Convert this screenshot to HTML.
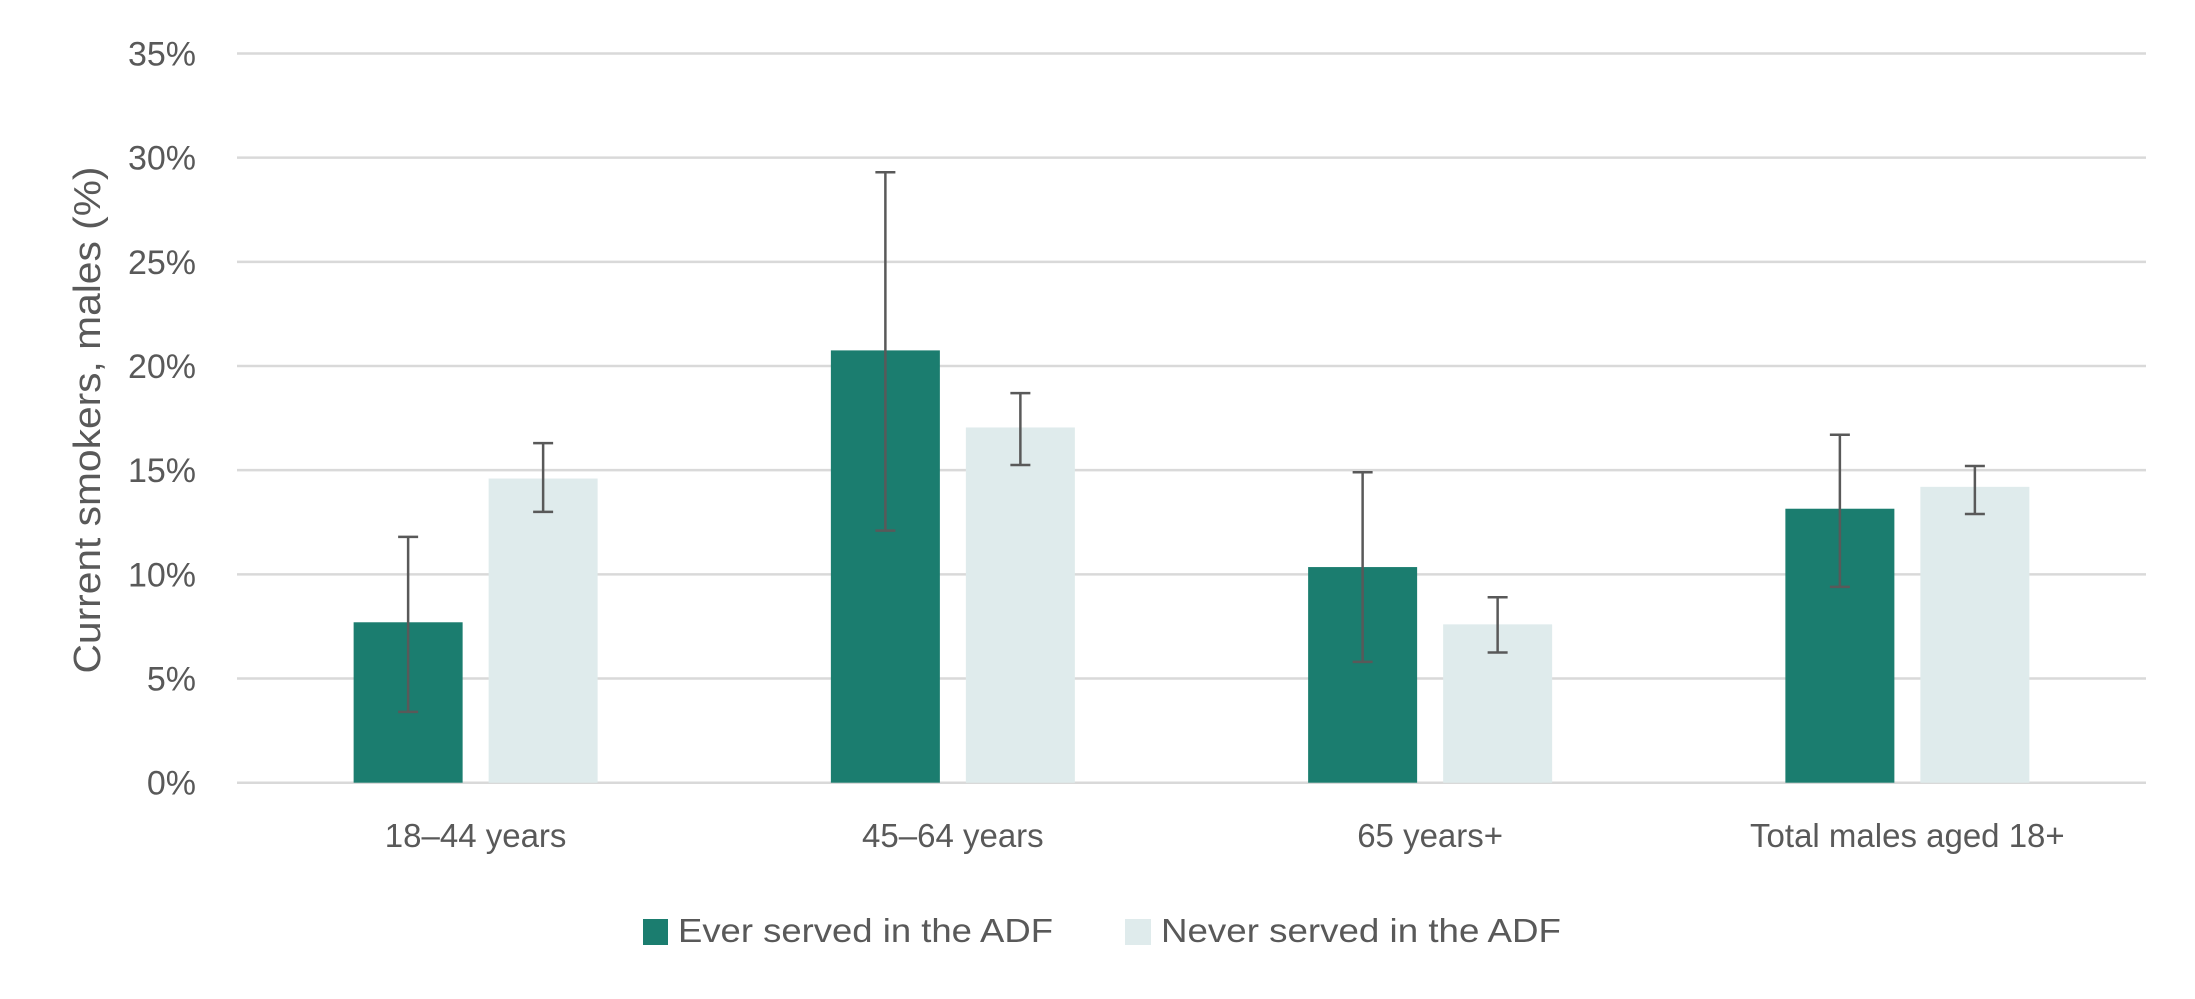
<!DOCTYPE html>
<html><head><meta charset="utf-8"><style>
html,body{margin:0;padding:0;background:#fff;}
svg{display:block;font-family:"Liberation Sans",sans-serif;}
</style></head><body>
<svg id="chart" width="2195" height="999" viewBox="0 0 2195 999" xmlns="http://www.w3.org/2000/svg">
<g id="grid"></g>
<g id="yticks"></g>
<text transform="translate(100,420) rotate(-90)" text-anchor="middle" font-size="38" fill="#595959" textLength="507" lengthAdjust="spacingAndGlyphs">Current smokers, males (%)</text>
<g id="bars"></g>
<g id="xlabels"></g>
<g>
<rect x="643" y="919" width="25" height="26" fill="#1B7D6F"/>
<text x="678" y="942" font-size="33" fill="#595959" textLength="375" lengthAdjust="spacingAndGlyphs">Ever served in the ADF</text>
<rect x="1125" y="919" width="26" height="26" fill="#DFEBEC"/>
<text x="1161" y="942" font-size="33" fill="#595959" textLength="400" lengthAdjust="spacingAndGlyphs">Never served in the ADF</text>
</g>
</svg>
<script>
const categories = ["18\u201344 years","45\u201364 years","65 years+","Total males aged 18+"];
const everValues = [7.7, 20.75, 10.35, 13.15];
const everLow = [3.4, 12.1, 5.8, 9.4];
const everHigh = [11.8, 29.3, 14.9, 16.7];
const neverValues = [14.6, 17.05, 7.6, 14.2];
const neverLow = [13.0, 15.25, 6.25, 12.9];
const neverHigh = [16.3, 18.7, 8.9, 15.2];
const yTicks = [0,5,10,15,20,25,30,35];

const NS="http://www.w3.org/2000/svg";
const X0=237, X1=2146, Y0=782.7, Ymax=35, Ytop=53.5;
function y(v){return Y0-(v/Ymax)*(Y0-Ytop);}
const band=(X1-X0)/categories.length;
function xc(i){return X0+band*(i+0.5);}
function mk(tag,attrs,parent){const e=document.createElementNS(NS,tag);for(const k in attrs)e.setAttribute(k,attrs[k]);parent.appendChild(e);return e;}
const grid=document.getElementById('grid'), yt=document.getElementById('yticks'), bars=document.getElementById('bars'), xl=document.getElementById('xlabels');
yTicks.forEach(t=>{
  const l=mk('line',{x1:X0,x2:X1,y1:y(t),y2:y(t),stroke:'#D9D9D9','stroke-width':2.5},grid);
  
  
  const tx=mk('text',{x:196,y:y(t)+12,'text-anchor':'end','font-size':34,fill:'#595959'},yt);
  tx.textContent=t+'%';
  
  
});
const BW=109, OFF=67.5;
function drawBar(cx,v,lo,hi,color,name){
  const r=mk('rect',{x:cx-BW/2,y:y(v),width:BW,height:Y0-y(v),fill:color},bars);
  
  
  const g=mk('g',{stroke:'#595959','stroke-width':2.5},bars);
  
  
  mk('line',{x1:cx,x2:cx,y1:y(hi),y2:y(lo)},g);
  mk('line',{x1:cx-10,x2:cx+10,y1:y(hi),y2:y(hi)},g);
  mk('line',{x1:cx-10,x2:cx+10,y1:y(lo),y2:y(lo)},g);
}
categories.forEach((c,i)=>{
  drawBar(xc(i)-OFF,everValues[i],everLow[i],everHigh[i],'#1B7D6F','bar-ever-'+i);
  drawBar(xc(i)+OFF,neverValues[i],neverLow[i],neverHigh[i],'#DFEBEC','bar-never-'+i);
  const t=mk('text',{x:xc(i),y:847,'text-anchor':'middle','font-size':33,fill:'#595959'},xl);
  t.textContent=c;
  
  
});
</script>
</body></html>
